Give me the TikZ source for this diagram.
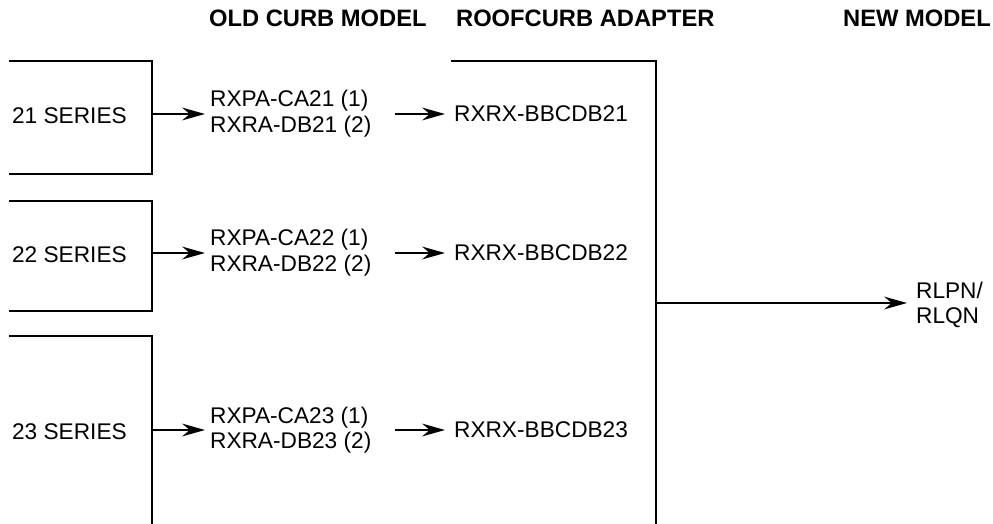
\documentclass[tikz,border=0pt]{standalone}
\usepackage{fontspec}
\setmainfont{Liberation Sans}
\usetikzlibrary{arrows.meta}

\begin{document}
\begin{tikzpicture}[x=0.75pt, y=-0.75pt, line width=1.7pt,
  arr/.style={-{Stealth[length=17pt, width=9.5pt, inset=5.5pt]}},
  head/.style={anchor=west, inner sep=0pt, font=\fontsize{17.8}{20}\selectfont\bfseries},
  txt/.style={anchor=west, inner xsep=3pt, inner ysep=0pt, align=left, font=\fontsize{17}{19.3}\selectfont}]
\useasboundingbox (0,0) rectangle (993,524);

\node [head] (hold) at (208,18) {OLD CURB MODEL};
\node [head] (hadp) at (455,18) {ROOFCURB ADAPTER};
\node [head] (hnew) at (842,18) {NEW MODEL};

% series brackets
\draw (9,61) -- (152,61) -- (152,174) -- (9,174);
\draw (9,201) -- (152,201) -- (152,311) -- (9,311);
\draw (9,336) -- (152,336) -- (152,524);
\node [txt, inner xsep=0pt] (s21) at (11,116) {21 SERIES};
\node [txt, inner xsep=0pt] (s22) at (11,255) {22 SERIES};
\node [txt, inner xsep=0pt] (s23) at (11,432) {23 SERIES};
\coordinate (b21) at (152,114);
\coordinate (b22) at (152,253);
\coordinate (b23) at (152,430);

% old curb models
\node [txt] (old21) at (205,114) {RXPA-CA21 (1)\\RXRA-DB21 (2)};
\node [txt] (old22) at (205,253) {RXPA-CA22 (1)\\RXRA-DB22 (2)};
\node [txt] (old23) at (205,430) {RXPA-CA23 (1)\\RXRA-DB23 (2)};

% adapters
\node [txt, inner xsep=6pt] (adp21) at (445,114) {RXRX-BBCDB21};
\node [txt, inner xsep=6pt] (adp22) at (445,253) {RXRX-BBCDB22};
\node [txt, inner xsep=6pt] (adp23) at (445,430) {RXRX-BBCDB23};

\draw [arr] (b21) -- (old21.west);
\draw [arr] (b22) -- (old22.west);
\draw [arr] (b23) -- (old23.west);
\draw [arr, shorten <=14pt] (old21.east) -- (adp21.west);
\draw [arr, shorten <=14pt] (old22.east) -- (adp22.west);
\draw [arr, shorten <=14pt] (old23.east) -- (adp23.west);

% new model
\draw (451,61) -- (656,61) -- (656,524);
\coordinate (join) at (656,303);
\node [txt, inner xsep=6pt] (new) at (907,305) {RLPN/\\RLQN};
\draw [arr] (join) -- (new.west |- join);
\end{tikzpicture}
\end{document}
